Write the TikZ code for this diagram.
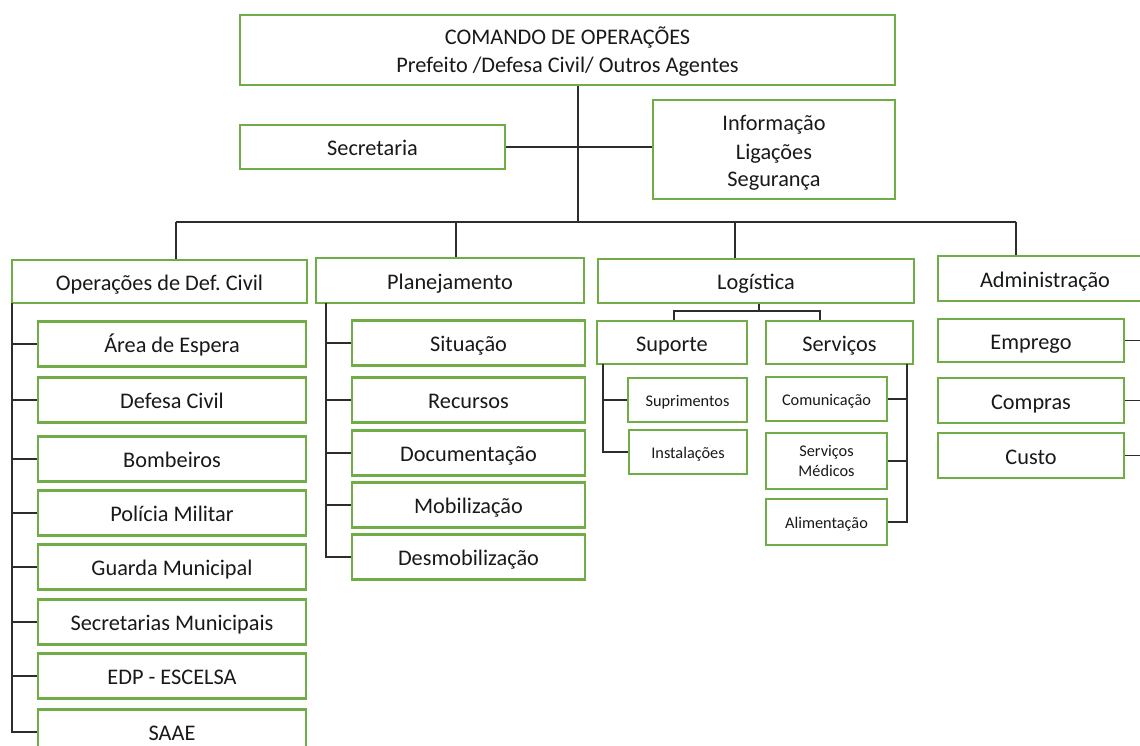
\documentclass[tikz,border=0pt]{standalone}
\usepackage{fontspec}
\setmainfont{Carlito}
\frenchspacing
\definecolor{boxgreen}{RGB}{112,173,71}
\definecolor{linegray}{RGB}{45,45,45}
\begin{document}
\begin{tikzpicture}[x=1pt,y=-1pt,
  box/.style={draw=boxgreen, line width=2.3pt, fill=white, align=center, inner sep=0pt,
    font=\fontsize{22.3}{28}\selectfont, text=black!90, text height=17pt, text depth=0pt},
  sbox/.style={box, font=\fontsize{16.3}{20}\selectfont, text height=12pt},
  conn/.style={draw=linegray, line width=1.2pt}]
\useasboundingbox (0,0) rectangle (1140,746);
\clip (0,0) rectangle (1140,746);
\fill[white] (0,0) rectangle (1140,746);

% top level
\node[box, minimum width=655, minimum height=70, text height=46pt] (cmd) at (567.5,50) {COMANDO DE OPERAÇÕES\\Prefeito /Defesa Civil/ Outros Agentes};
\node[box, minimum width=265, minimum height=44] (sec) at (372.5,147) {Secretaria};
\node[box, minimum width=242, minimum height=99, text height=75pt] (info) at (774,149.5) {Informação\\Ligações\\Segurança};

% sections
\node[box, minimum width=295, minimum height=43] (ops) at (159.5,281.5) {Operações de Def.\ Civil};
\node[box, minimum width=268, minimum height=45] (plan) at (450,280.5) {Planejamento};
\node[box, minimum width=316, minimum height=44] (log) at (756,281) {Logística};
\node[box, minimum width=214, minimum height=45] (adm) at (1045,278.5) {Administração};

% operações children
\foreach \n/\y/\t in {o1/344/Área de Espera, o2/400/Defesa Civil, o3/459/Bombeiros, o4/513/Polícia Militar, o5/567/Guarda Municipal, o6/622/Secretarias Municipais, o7/676/EDP - ESCELSA, o8/732/SAAE}
  \node[box, minimum width=268, minimum height=45] (\n) at (172,\y) {\t};

% planejamento children
\foreach \n/\y/\t in {p1/343/Situação, p2/400/Recursos, p3/453/Documentação, p4/505/Mobilização, p5/557/Desmobilização}
  \node[box, minimum width=233, minimum height=45] (\n) at (468.5,\y) {\t};

% logística
\node[box, minimum width=150, minimum height=43] (sup) at (672,342.5) {Suporte};
\node[box, minimum width=147, minimum height=43] (serv) at (839.5,342.5) {Serviços};
\node[sbox, minimum width=119, minimum height=44] (supr) at (687.5,400) {Suprimentos};
\node[sbox, minimum width=118, minimum height=44] (inst) at (688,452) {Instalações};
\node[sbox, minimum width=121, minimum height=44] (com) at (826.5,399) {Comunicação};
\node[sbox, minimum width=121, minimum height=56, text height=30pt] (med) at (826.5,461) {Serviços\\Médicos};
\node[sbox, minimum width=121, minimum height=46] (ali) at (826.5,522) {Alimentação};

% administração children
\node[box, minimum width=186, minimum height=43] (emp) at (1031,340.5) {Emprego};
\node[box, minimum width=186, minimum height=45] (comp) at (1031,400.5) {Compras};
\node[box, minimum width=186, minimum height=45] (cus) at (1031,455.5) {Custo};

% connectors
\coordinate (trunk) at (578,222);
\coordinate (b1) at (176,222);
\coordinate (b2) at (456,222);
\coordinate (b3) at (735,222);
\coordinate (b4) at (1016,222);
\coordinate (os) at (12,303);
\coordinate (ps) at (326,303);
\coordinate (lj) at (759,311);
\coordinate (ls) at (674,311);
\coordinate (lr) at (820,311);
\coordinate (sups) at (603,364);
\coordinate (servs) at (907,364);
\coordinate (ar) at (1148,300);

\draw[conn] (cmd.south -| trunk) -- (trunk);
\draw[conn] (sec.east) -- (sec.east -| info.west);
\draw[conn] (b1) -- (b4);
\draw[conn] (b1) -- (b1 |- ops.north);
\draw[conn] (b2) -- (b2 |- plan.north);
\draw[conn] (b3) -- (b3 |- log.north);
\draw[conn] (b4) -- (b4 |- adm.north);
\draw[conn] (os) |- (o8.west);
\foreach \n in {o1,o2,o3,o4,o5,o6,o7}
  \draw[conn] (os |- \n.west) -- (\n.west);
\draw[conn] (ps) |- (p5.west);
\foreach \n in {p1,p2,p3,p4}
  \draw[conn] (ps |- \n.west) -- (\n.west);
\draw[conn] (log.south -| lj) -- (lj);
\draw[conn] (ls |- sup.north) -- (ls) -- (lr) -- (lr |- serv.north);
\draw[conn] (sups) |- (inst.west);
\draw[conn] (sups |- supr.west) -- (supr.west);
\draw[conn] (servs) |- (ali.east);
\draw[conn] (servs |- com.east) -- (com.east);
\draw[conn] (servs |- med.east) -- (med.east);
\draw[conn] (emp.east) -- (emp.east -| ar);
\draw[conn] (comp.east) -- (comp.east -| ar);
\draw[conn] (cus.east) -- (cus.east -| ar);
\end{tikzpicture}
\end{document}
